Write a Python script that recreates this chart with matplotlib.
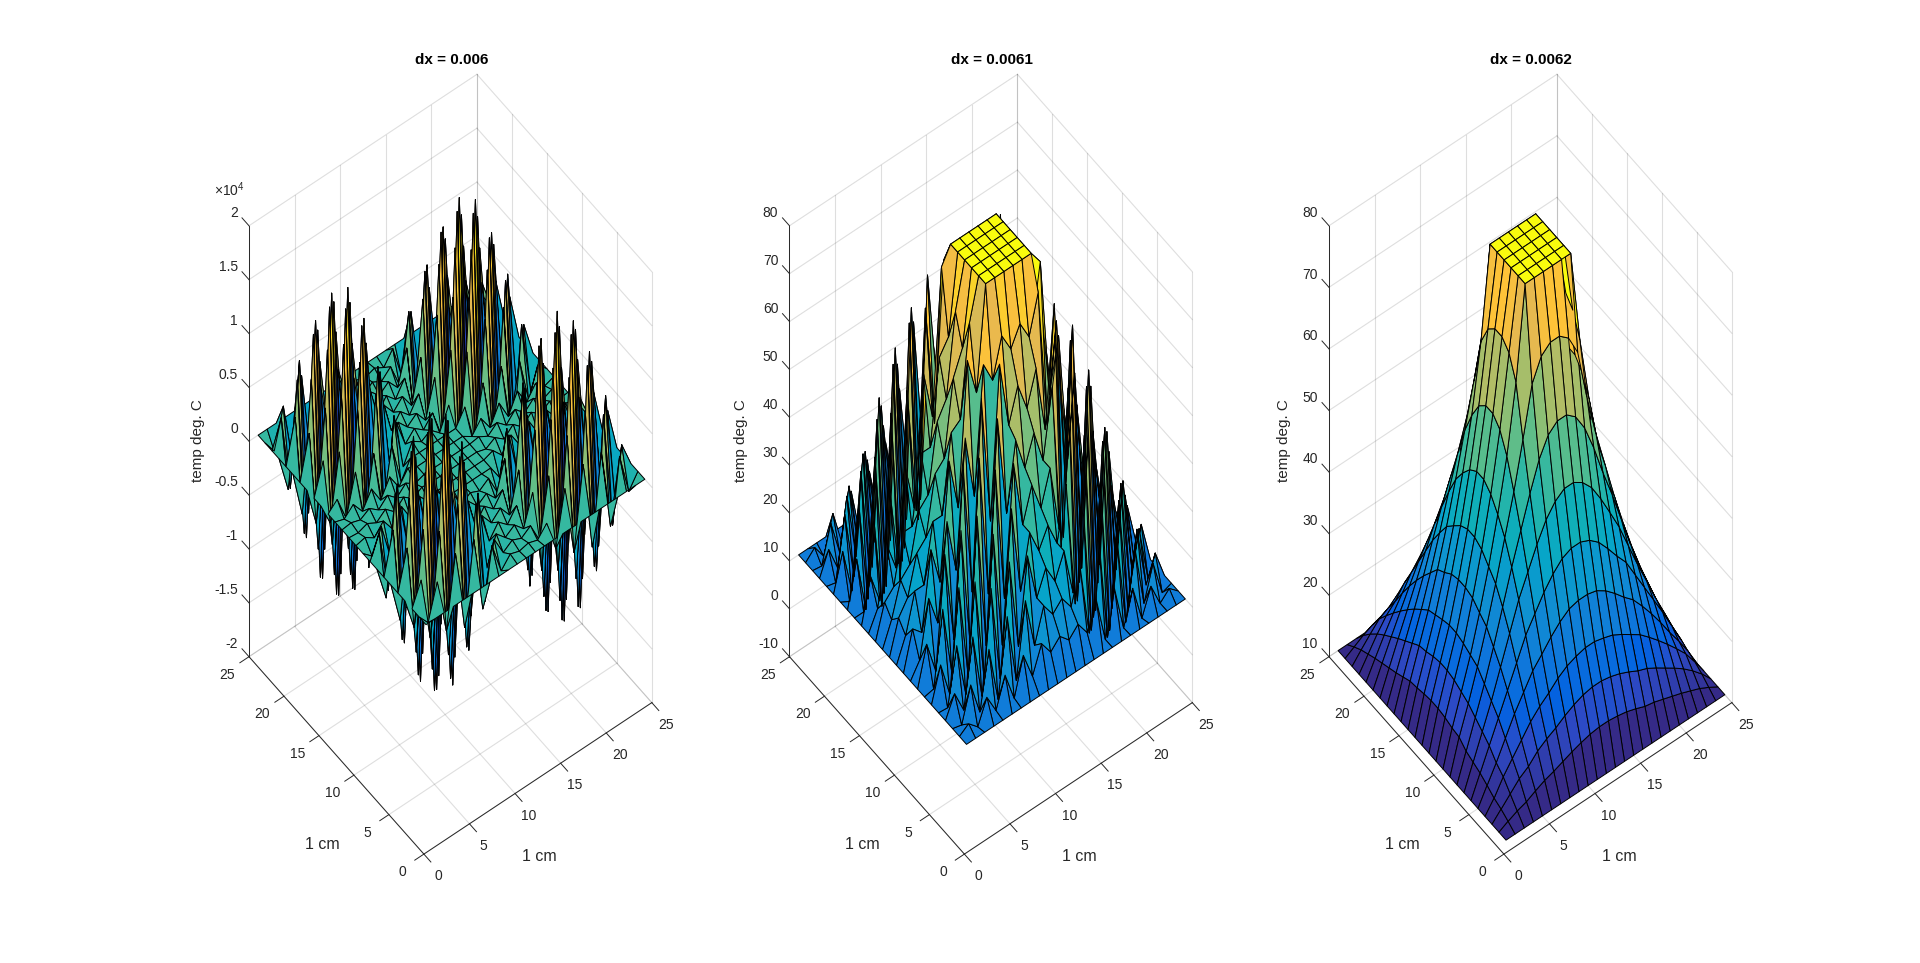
import numpy as np
import matplotlib
matplotlib.use('Agg')
import matplotlib.pyplot as plt
from matplotlib.colors import LinearSegmentedColormap, Normalize
from mpl_toolkits.mplot3d import proj3d

plt.rcParams['font.family'] = ['Liberation Sans', 'DejaVu Sans']
plt.rcParams['mathtext.fontset'] = 'custom'
plt.rcParams['mathtext.rm'] = 'Liberation Sans'
plt.rcParams['mathtext.default'] = 'regular'

titles = ['dx = 0.006', 'dx = 0.0061', 'dx = 0.0062']
x_ticks = [0, 5, 10, 15, 20, 25]
y_ticks = [0, 5, 10, 15, 20, 25]
z_ticks_1 = [-2, -1.5, -1, -0.5, 0, 0.5, 1, 1.5, 2]
z_labels_1 = ['-2', '-1.5', '-1', '-0.5', '0', '0.5', '1', '1.5', '2']
z_ticks_2 = [-10, 0, 10, 20, 30, 40, 50, 60, 70, 80]
z_ticks_3 = [10, 20, 30, 40, 50, 60, 70, 80]

nodes = list(range(1, 26))

# temperature, rows are y = 1..25, columns x = 1..25
# left panel is in units of 1e4 like its axis
temp_1 = [
    [0]*25,
    [0,-.11,.21,-.30,.36,-.38,.38,-.32,.21,-.08,.02,-.01,.01,-.02,.08,-.21,.29,-.36,.40,-.42,.40,-.34,.25,-.13,0],
    [0,.21,-.38,.55,-.65,.69,-.69,.58,-.38,.14,-.04,.02,-.02,.04,-.15,.39,-.54,.65,-.73,.77,-.73,.62,-.46,.23,0],
    [0,-.30,.55,-.80,.95,-1.0,1.0,-.85,.55,-.20,.06,-.03,.03,-.06,.22,-.56,.78,-.95,1.06,-1.12,1.06,-.90,.67,-.34,0],
    [0,.36,-.66,.95,-1.13,1.19,-1.19,1.01,-.66,.24,-.08,.04,-.04,.08,-.27,.67,-.93,1.13,-1.26,1.33,-1.26,1.06,-.80,.40,0],
    [0,-.38,.69,-1.0,1.19,-1.25,1.25,-1.06,.69,-.25,.08,-.04,.04,-.08,.28,-.70,.98,-1.19,1.33,-1.40,1.33,-1.12,.84,-.42,0],
    [0,.38,-.69,1.0,-1.19,1.25,-1.25,1.06,-.69,.25,-.08,.04,-.04,.08,-.28,.70,-.98,1.19,-1.33,1.40,-1.33,1.12,-.84,.42,0],
    [0,-.32,.59,-.85,1.01,-1.06,1.06,-.90,.59,-.21,.07,-.03,.03,-.07,.24,-.60,.83,-1.01,1.13,-1.19,1.13,-.95,.71,-.36,0],
    [0,.21,-.38,.55,-.65,.69,-.69,.58,-.38,.14,-.04,.02,-.02,.04,-.15,.39,-.54,.65,-.73,.77,-.73,.62,-.46,.23,0],
    [0,-.08,.14,-.20,.24,-.25,.25,-.21,.14,.008,.008,.008,.008,.008,.008,-.14,.20,-.24,.27,-.28,.27,-.22,.17,-.08,0],
    [0,.02,-.04,.06,-.07,.08,-.08,.06,-.04,.008,.008,.008,.008,.008,.008,.04,-.06,.07,-.08,.08,-.08,.07,-.05,.03,0],
    [0,-.01,.02,-.03,.04,-.04,.04,-.03,.02,.008,.008,.008,.008,.008,.008,-.02,.03,-.04,.04,-.04,.04,-.03,.03,-.01,0],
    [0,.01,-.02,.03,-.04,.04,-.04,.04,-.02,.008,.008,.008,.008,.008,.008,.02,-.03,.04,-.04,.05,-.04,.04,-.03,.01,0],
    [0,-.03,.05,-.07,.08,-.08,.08,-.07,.05,.008,.008,.008,.008,.008,.008,-.05,.06,-.08,.09,-.09,.09,-.07,.05,-.03,0],
    [0,.08,-.15,.22,-.27,.28,-.28,.24,-.15,.008,.008,.008,.008,.008,.008,.15,-.21,.26,-.29,.30,-.29,.24,-.18,.09,0],
    [0,-.21,.39,-.56,.67,-.70,.70,-.60,.39,-.14,.04,-.02,.03,-.05,.15,-.38,.53,-.64,.72,-.75,.72,-.60,.45,-.23,0],
    [0,.29,-.54,.78,-.93,.98,-.98,.83,-.54,.20,-.06,.03,-.04,.06,-.21,.53,-.74,.90,-1.0,1.05,-1.0,.84,-.63,.32,0],
    [0,-.36,.65,-.95,1.13,-1.19,1.19,-1.01,.65,-.24,.07,-.03,.04,-.08,.26,-.64,.89,-1.09,1.22,-1.28,1.22,-1.02,.77,-.38,0],
    [0,.40,-.73,1.06,-1.26,1.33,-1.33,1.13,-.73,.27,-.08,.04,-.05,.09,-.29,.71,-1.0,1.22,-1.36,1.43,-1.36,1.14,-.86,.43,0],
    [0,-.42,.77,-1.12,1.33,-1.40,1.40,-1.19,.77,-.28,.08,-.04,.05,-.09,.30,-.75,1.05,-1.28,1.43,-1.50,1.43,-1.20,.90,-.45,0],
    [0,.40,-.73,1.06,-1.26,1.33,-1.33,1.13,-.73,.27,-.08,.04,-.05,.09,-.29,.71,-1.0,1.22,-1.36,1.43,-1.36,1.14,-.86,.43,0],
    [0,-.34,.62,-.90,1.06,-1.12,1.12,-.95,.62,-.22,.06,-.03,.04,-.07,.24,-.60,.84,-1.02,1.14,-1.20,1.14,-.96,.72,-.36,0],
    [0,.25,-.46,.67,-.80,.84,-.84,.71,-.46,.17,-.05,.02,-.03,.05,-.18,.45,-.63,.77,-.86,.90,-.86,.72,-.54,.27,0],
    [0,-.13,.23,-.34,.40,-.42,.42,-.36,.23,-.08,.02,-.01,.02,-.03,.09,-.23,.32,-.38,.43,-.45,.43,-.36,.27,-.14,0],
    [0]*25,
]

temp_2 = [
    [10]*25,
    [10,11.4,9.5,14.4,10.4,16.5,10.4,18.1,12.5,18,15,17,15,17,14,19.6,10,19.4,9.9,16.9,9.4,14.8,10,11.8,10],
    [10,9.5,16.6,9.7,21.5,9.8,25.8,11.2,26.6,16,23,20,22,19,26,11,30.5,7.6,27.7,8.2,22.5,9.6,16.7,9.3,10],
    [10,14.4,9.7,23.7,10.1,31.3,11.2,34.3,15.4,33,23,28,24,29,19,38.8,8.7,38.1,6.1,31.9,8.3,23.4,10.5,15.9,10],
    [10,9.8,21.5,10.1,32.3,10.8,39.7,15.3,42.5,24,35,30,34,29,40,13.8,47.7,8.5,43.9,7.7,32.6,9.5,20.6,8.7,10],
    [10,17.1,9.8,30.7,11.4,43.1,14.8,50.2,22.1,49,35,42,36,43,29,57.2,11.5,55,7,43.9,8.5,30.2,10,18.6,10],
    [10,10.4,25.8,11.2,39.7,14.8,52.3,22.7,58,37,51,44,50,43,57,22.5,64.2,12.5,55.5,9.8,40.1,10,24.3,9,10],
    [10,18.1,11.2,34.3,15.3,50.2,22.7,61.8,35,66.5,52.5,59.5,53.5,60.5,46.5,71.5,21.5,64.5,12.5,49.2,10.7,33,11.2,19.2,10],
    [10,13.1,24.8,18.4,38.3,26.9,53.2,39.8,66,61.5,69.5,65.5,69.5,65.5,73.5,44.5,65,29.5,51.6,21.5,36.9,16.2,23,11.1,10],
    [10,18,16,32,24,48,37,66.5,58.5,80,80,80,80,80,80,77,48,59,32,42,22,28,15.5,16,10],
    [10,15,23,23,35,35,51,52.5,71.5,80,80,80,80,80,80,64,62,45,45,31,31,21,19.5,13,10],
    [10,17,20,28,30,42,44,59.5,64.5,80,80,80,80,80,80,71,55,52,38,36,26,24,17.5,15,10],
    [10,15,22,24,34,36,50,53.5,70.5,80,80,80,80,80,80,65,61,46,44,32,30,22,19.5,13,10],
    [10,17,19,29,29,43,43,60.5,63.5,80,80,80,80,80,80,72,54,53,37,37,25,25,17.5,15,10],
    [10,14,26,20,40,30,57,46.5,76.5,80,80,80,80,80,80,59,68,39,50,26,34,18,21.5,12,10],
    [10,19,12.7,36.2,18,52.8,26.5,67.5,42.2,75,65,70,66,71,61,76,31.5,65,20,48.5,14.5,33,13.5,19,10],
    [10,10,30.5,8.7,47.7,11.5,64,21.7,71.5,48,62,55,61,54,68,26.5,74,13,63,9,44.5,9.3,26.3,8.3,10],
    [10,19.4,7.6,38.1,8.5,55,12.7,64.3,23,59,45,52,46,53,39,70,13,65,6,50.5,6.5,34,9.2,19.6,10],
    [10,8.9,27.9,6.9,43.1,7,55.5,12.5,58.4,31,45,38,44,37,51,15,63,6,55.5,5,39.5,7.3,24,7,10],
    [10,17.7,8.2,31.9,7.7,44.7,9.8,49.2,15.5,42,31,36,32,37,26,53.5,9,50.5,4,41.5,6.5,27.6,8.8,17.3,10],
    [10,9.5,22.5,8.3,32.6,7.7,40.1,10.7,41.1,21,31,26,30,25,35,11.5,44.5,6.5,40.5,6.5,30.5,8,18.6,7.7,10],
    [10,14.8,9.6,23.4,9.5,30.2,10,33,13.6,28,21,24,22,25,18,34,9.3,34,7.3,27.6,8,20.5,8.5,14,10],
    [10,9.7,17.3,9.8,22.6,8.8,25.5,10,26.7,15.5,19.5,17.5,19.5,17.5,21.5,10.5,25.2,8,22.8,7.8,18.6,8.5,13.2,8.6,10],
    [10,11.9,8.8,16.5,9,18.6,8,20.2,9.5,16.5,13.5,15.5,13.5,15.5,12.5,19.3,8.3,19.6,8,16.3,7.7,14,8.6,11.3,10],
    [10]*25,
]

temp_3 = [
    [10]*25,
    [10,10.8,11.5,12,12.8,13.5,14,14.6,15.2,15.7,16.1,16.3,16.3,16.1,15.8,15.3,14.7,14.4,13.9,13.4,12.9,12.3,11.7,10.9,10],
    [10,11.5,13,14.5,15.5,17,18,18.8,19.8,20.6,21.2,21.5,21.5,21.2,20.7,20,19.2,18.6,17.7,16.7,15.7,14.6,13.3,11.8,10],
    [10,12,14.5,16.5,18.5,20.5,22,23.2,24.6,25.6,26.2,26.6,26.6,26.2,25.7,24.8,23.8,22.8,21.4,19.9,18.3,16.6,14.8,12.5,10],
    [10,12.8,15.5,18.5,21.5,24,26.5,28.2,30,31.5,32.6,33,33,32.6,31.6,30.2,28.6,27.2,25.2,23,20.6,18,15.6,13,10],
    [10,13.5,17,20.5,24,27.5,31,33.5,36,38,39.5,40.2,40.2,39.5,38.2,36.2,34,32,29,26,23,20,16.8,13.6,10],
    [10,14,18,22,26.5,31,35.5,39,42.5,45.5,47.5,48.6,48.6,47.6,45.8,43,39.8,36.5,32.5,28.5,24.8,21,17.5,14,10],
    [10,14.5,19,23.5,28.5,34,39.5,44.5,49.5,54,57,58.3,58.3,57,54.2,50,45,40.5,35.5,30.5,26,22,18,14.2,10],
    [10,15.5,20,25,30.5,36.5,43,49.5,57,65,68.5,69.8,69.8,68.5,65.2,57,50,44,38,32.5,27.5,23,18.7,14.5,10],
    [10,15.7,20.6,25.6,31.5,38,45.5,54,65,80,80,80,80,80,80,65,54.5,46,39,32.5,27,22.2,18,13.7,10],
    [10,16.1,21.2,26.2,32.6,39.5,47.5,57,68.5,80,80,80,80,80,80,68.5,57.5,48.7,41,34,28.3,23.2,18.7,14.1,10],
    [10,16.3,21.5,26.6,33,40.2,48.6,58.3,69.8,80,80,80,80,80,80,70,59,50,42,35,29,23.7,19,14.3,10],
    [10,16.3,21.5,26.6,33,40.2,48.6,58.3,69.8,80,80,80,80,80,80,70,59,50,42,35,29,23.7,19,14.3,10],
    [10,16.1,21.2,26.2,32.6,39.5,47.6,57,68.5,80,80,80,80,80,80,68.5,57.5,48.7,41,34,28.3,23.2,18.7,14.1,10],
    [10,15.8,20.7,25.7,31.6,38.2,45.8,54.2,65.2,80,80,80,80,80,80,65.2,54.7,46.2,39,32.5,27,22.2,18,13.7,10],
    [10,15.6,20.4,25.2,30.8,36.8,43.5,50.5,57.5,65,68.5,70,70,68.5,65.2,58,51.5,45,39,33.5,27.5,24,19.5,15,10],
    [10,15,19.5,24,29,34.5,40.2,45.5,50.5,54.5,57.5,59,59,57.5,54.7,51.5,46,41,36,31,26.5,22.3,18.3,14.3,10],
    [10,14.4,18.6,22.8,27.2,32,36.5,40.5,43.5,46,48.7,50,50,48.7,46.2,43.5,41,37,33,28.5,24.5,21,17.2,13.6,10],
    [10,13.9,17.7,21.4,25.2,29,32.5,35.5,37.5,39,41,42,42,41,39,38,36,33,29.5,26,22.5,19.3,16,13,10],
    [10,13.4,16.7,19.9,23,26,28.5,30.5,31.5,33,34,35,35,34,33,32,30,28.5,26,23.5,20.5,17.6,14.8,12.3,10],
    [10,12.9,15.7,18.3,20.6,23,24.8,26,27.2,27.6,28.3,29,29,28.3,27.6,27,25.7,24.5,22.5,20.5,18.5,16,13.6,11.7,10],
    [10,12.3,14.6,16.6,18,20,21,21.6,22.2,22.8,23.3,23.7,23.7,23.3,22.8,22.2,21.6,21,19.3,17.6,16,14.5,12.5,11,10],
    [10,11.7,13.3,14.8,15.6,16.8,17.5,17.8,18.2,18.5,18.8,19,19,18.8,18.5,18.2,17.8,17.2,16,14.8,13.6,12.5,11.2,10.6,10],
    [10,10.9,11.8,12.5,13,13.6,13.8,13.9,14,14.1,14.2,14.3,14.3,14.2,14.1,14,13.8,13.6,13,12.3,11.7,11,10.6,10.3,10],
    [10]*25,
]

# old matlab parula, position then colour
parula = LinearSegmentedColormap.from_list('parula', [
    (0/63, (.2081,.1663,.5292)), (5/63, (.1707,.2919,.7792)), (8/63, (.0117,.3875,.8820)),
    (13/63, (.0629,.4737,.8554)), (18/63, (.0641,.5570,.8240)), (23/63, (.0231,.6418,.7913)),
    (27/63, (.0590,.6838,.7254)), (31/63, (.1801,.7177,.6424)), (35/63, (.3482,.7424,.5473)),
    (40/63, (.5709,.7485,.4494)), (45/63, (.7525,.7384,.3768)), (50/63, (.9139,.7258,.3063)),
    (54/63, (.9990,.7653,.2164)), (57/63, (.9789,.8271,.1633)), (60/63, (.9589,.8949,.1132)),
    (63/63, (.9763,.9831,.0538))])

W, H = 1920, 963
SIDE = 925
grid_col = (0.15, 0.15, 0.15, 0.15)
ax_col = '#262626'


def put(ax, x, y, z, s, **kw):
    # 3d position to the flat axes coords, so it stays a normal text
    px, py, _ = proj3d.proj_transform(x, y, z, ax.get_proj())
    ax.text2D(px, py, s, transform=ax.transData, color=ax_col, **kw)


def draw_panel(fig, origin_x, temp, zlim, clim, zticks, zlabels, title, zlabel_x):
    cx, cy = origin_x + 26.4, 464.2
    frac = 0.095/0.185
    ax = fig.add_axes([(cx - SIDE*frac)/W, (H - cy - SIDE*frac)/H, SIDE/W, SIDE/H],
                      projection='3d', proj_type='ortho')
    ax.view_init(elev=60, azim=-127.5)
    ax.set_box_aspect((1, 1, 3))
    ax.set_axis_off()
    ax.patch.set_alpha(0)
    ax.computed_zorder = False
    ax.set_xlim(0, 25)
    ax.set_ylim(0, 25)
    ax.set_zlim(*zlim)
    z0, z1 = zlim

    # back walls and floor
    for t in x_ticks:
        ax.plot([t, t], [0, 25], [z0, z0], color=grid_col, lw=0.8, zorder=1)
        ax.plot([t, t], [25, 25], [z0, z1], color=grid_col, lw=0.8, zorder=1)
    for t in y_ticks:
        ax.plot([0, 25], [t, t], [z0, z0], color=grid_col, lw=0.8, zorder=1)
        ax.plot([25, 25], [t, t], [z0, z1], color=grid_col, lw=0.8, zorder=1)
    for t in zticks:
        ax.plot([0, 25], [25, 25], [t, t], color=grid_col, lw=0.8, zorder=1)
        ax.plot([25, 25], [0, 25], [t, t], color=grid_col, lw=0.8, zorder=1)

    X, Y = np.meshgrid(nodes, nodes)
    Z = np.array(temp, dtype=float)
    norm = Normalize(vmin=clim[0], vmax=clim[1])
    ax.plot_surface(X, Y, Z, rstride=1, cstride=1, facecolors=parula(norm(Z)), shade=False,
                    edgecolor='black', linewidth=0.7, antialiased=True, zorder=2)

    # axis lines and ticks
    ax.plot([0, 25], [0, 0], [z0, z0], color=ax_col, lw=0.7, zorder=3)
    ax.plot([0, 0], [0, 25], [z0, z0], color=ax_col, lw=0.7, zorder=3)
    ax.plot([0, 0], [25, 25], [z0, z1], color=ax_col, lw=0.7, zorder=3)
    for t in x_ticks:
        ax.plot([t, t], [0, -1], [z0, z0], color=ax_col, lw=0.7, zorder=3)
        put(ax, t - 0.38, -2.5, z0, str(t), ha='center', va='center', fontsize=10)
    for t in y_ticks:
        ax.plot([0, -1], [t, t], [z0, z0], color=ax_col, lw=0.7, zorder=3)
        put(ax, -2.6, t - 0.32, z0, str(t), ha='center', va='center', fontsize=10)
    for t, lab in zip(zticks, zlabels):
        ax.plot([0, 0], [25, 26], [t, t], color=ax_col, lw=0.7, zorder=3)
        put(ax, 0, 26.6, t, lab, ha='right', va='center', fontsize=10)
    put(ax, 7.78, -6.3, z0, '1 cm', ha='center', va='center', fontsize=11.5)
    put(ax, -6.45, 6.18, z0, '1 cm', ha='center', va='center', fontsize=11.5)

    fig.text(cx/W + 1/W, 1 - 60/H, title, ha='center', va='center', fontsize=11, fontweight='bold', color='black')
    fig.text(zlabel_x/W, 1 - 441/H, 'temp deg. C', ha='center', va='center', rotation=90,
             fontsize=11, color=ax_col)


fig = plt.figure(figsize=(W/100, H/100), dpi=100, facecolor='white')
draw_panel(fig, 424, temp_1, (-2, 2), (-1.6, 1.6), z_ticks_1, z_labels_1, titles[0], 198)
draw_panel(fig, 964.5, temp_2, (-10, 80), (-10, 80), z_ticks_2, [str(t) for t in z_ticks_2], titles[1], 741)
draw_panel(fig, 1504, temp_3, (10, 80), (10, 80), z_ticks_3, [str(t) for t in z_ticks_3], titles[2], 1284)
fig.text(229/W, 1 - 190/H, r'$\times 10^{4}$', ha='center', va='center', fontsize=10, color=ax_col)

plt.savefig('out.png', dpi=100)
